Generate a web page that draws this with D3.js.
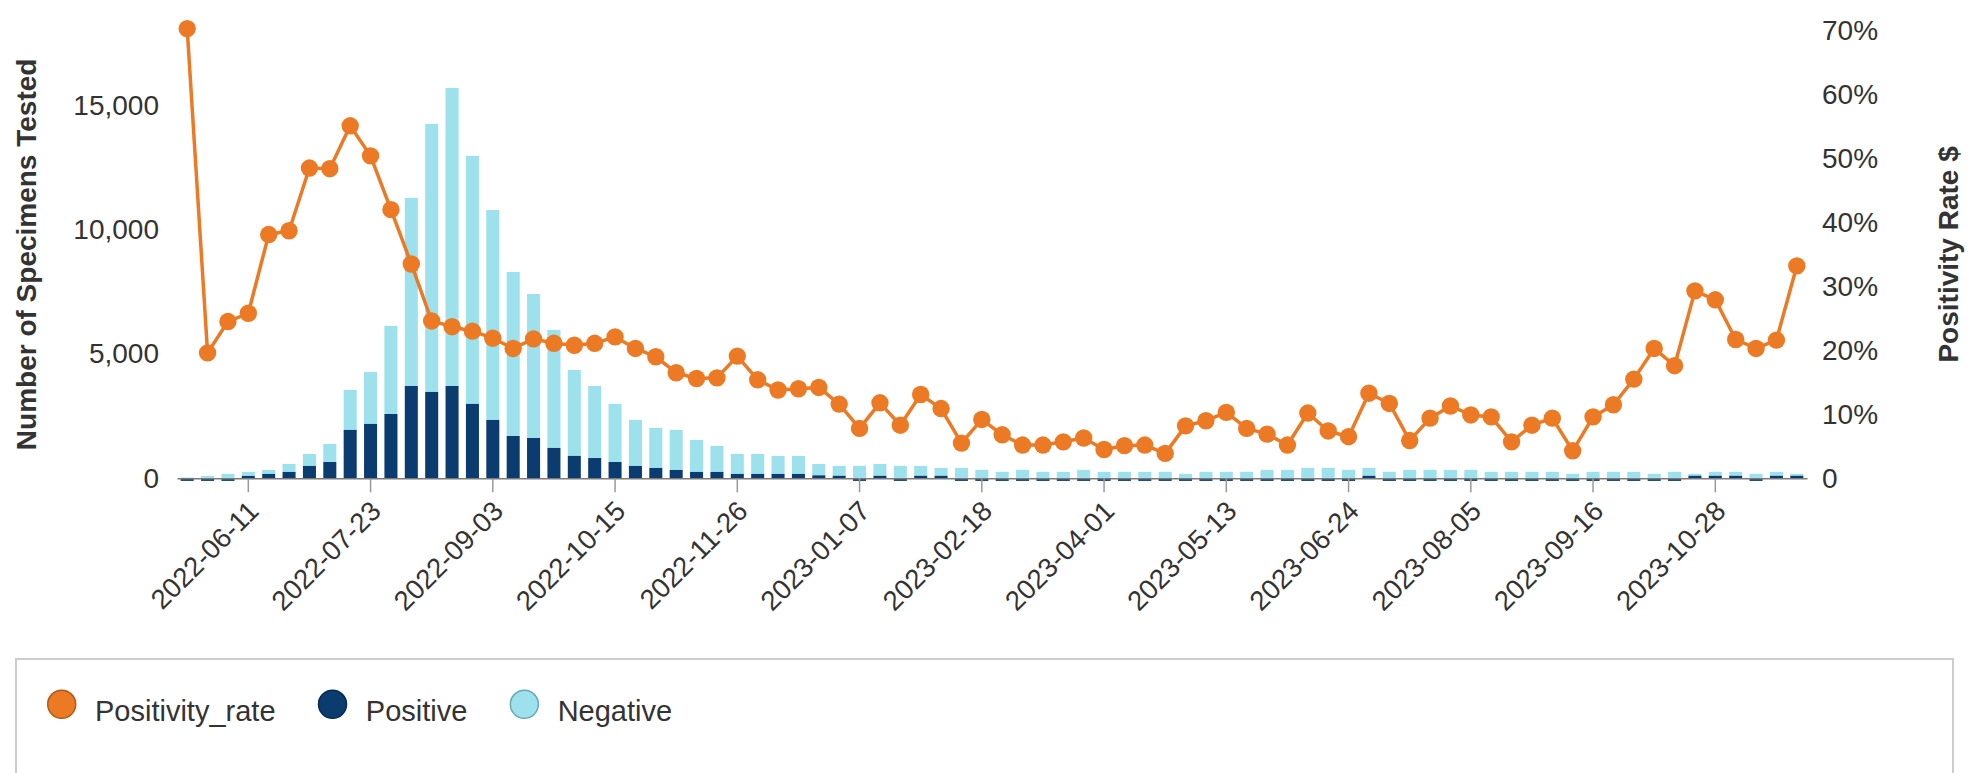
<!DOCTYPE html>
<html><head><meta charset="utf-8">
<script src="https://cdn.jsdelivr.net/npm/d3@7"></script>
<style>
body{margin:0;background:#fff}
svg{display:block}
text{font-family:"Liberation Sans",Arial,Helvetica,sans-serif;fill:#333}
</style>
</head><body>
<svg id="c" width="1988" height="773"></svg>
<script>
const categories = [
"2022-05-21","2022-05-28","2022-06-04","2022-06-11","2022-06-18","2022-06-25","2022-07-02","2022-07-09","2022-07-16","2022-07-23",
"2022-07-30","2022-08-06","2022-08-13","2022-08-20","2022-08-27","2022-09-03","2022-09-10","2022-09-17","2022-09-24","2022-10-01",
"2022-10-08","2022-10-15","2022-10-22","2022-10-29","2022-11-05","2022-11-12","2022-11-19","2022-11-26","2022-12-03","2022-12-10",
"2022-12-17","2022-12-24","2022-12-31","2023-01-07","2023-01-14","2023-01-21","2023-01-28","2023-02-04","2023-02-11","2023-02-18",
"2023-02-25","2023-03-04","2023-03-11","2023-03-18","2023-03-25","2023-04-01","2023-04-08","2023-04-15","2023-04-22","2023-04-29",
"2023-05-06","2023-05-13","2023-05-20","2023-05-27","2023-06-03","2023-06-10","2023-06-17","2023-06-24","2023-07-01","2023-07-08",
"2023-07-15","2023-07-22","2023-07-29","2023-08-05","2023-08-12","2023-08-19","2023-08-26","2023-09-02","2023-09-09","2023-09-16",
"2023-09-23","2023-09-30","2023-10-07","2023-10-14","2023-10-21","2023-10-28","2023-11-04","2023-11-11","2023-11-18","2023-11-25"];

const positive = [
10,15,15,95,175,255,495,655,1945,2185,
2585,3710,3470,3710,2990,2345,1700,1620,1220,900,
815,655,495,415,335,255,255,175,175,175,
175,120,100,15,100,15,100,100,15,12,
14,15,13,15,16,12,14,15,12,10,
13,15,14,16,15,17,15,14,100,12,
11,14,15,13,12,11,13,14,9,12,
13,15,16,14,100,100,100,15,100,100];

const negative = [
20,80,160,160,160,320,485,725,1605,2090,
3540,7560,10775,11980,9970,8440,6595,5790,4745,3455,
2895,2335,1850,1610,1610,1285,1045,805,805,725,
725,455,400,485,475,485,400,320,405,328,
246,325,247,245,324,248,246,245,248,170,
247,245,246,324,325,403,405,326,320,248,
329,326,325,327,248,249,247,246,171,248,
247,245,164,246,80,160,160,165,160,80];

const positivityRate = [
70.3,19.6,24.5,25.8,38.1,38.7,48.5,48.4,55.1,50.4,
42.0,33.5,24.6,23.7,23.0,21.9,20.3,21.8,21.1,20.8,
21.1,22.1,20.3,19.0,16.5,15.6,15.7,19.1,15.4,13.8,
14.0,14.2,11.6,7.8,11.8,8.3,13.1,10.9,5.5,9.2,
6.8,5.2,5.2,5.7,6.3,4.5,5.1,5.2,3.9,8.2,
9.0,10.3,7.8,6.9,5.2,10.2,7.4,6.5,13.3,11.7,
5.9,9.4,11.3,9.9,9.6,5.7,8.3,9.4,4.3,9.6,
11.5,15.5,20.3,17.6,29.3,27.9,21.7,20.3,21.6,33.2];

const tickLabels = ["2022-06-11","2022-07-23","2022-09-03","2022-10-15","2022-11-26","2023-01-07","2023-02-18","2023-04-01","2023-05-13","2023-06-24","2023-08-05","2023-09-16","2023-10-28"];
const leftTicks = [0,5000,10000,15000];
const rightTicks = [0,10,20,30,40,50,60,70];
const seriesNames = ["Positivity_rate","Positive","Negative"];

const C = {rate:"#ec7a24", pos:"#0b3c6f", neg:"#9ce1ec"};
const LEG_STROKE = {rate:"#b05816", pos:"#062a50", neg:"#6aa8b2"};

const svg = d3.select("#c");
const L = 177, R = 1807, T = 30.5, B = 478.3;

const x = d3.scaleBand().domain(categories).range([L, R]).paddingInner(0.36).paddingOuter(0.18);
const yL = d3.scaleLinear().domain([0, 18000]).range([B, T]);
const yR = d3.scaleLinear().domain([0, 70]).range([B, T]);

const data = categories.map((c, i) => ({c, p: positive[i], n: negative[i], r: positivityRate[i]}));

// bars
const gb = svg.append("g");
gb.selectAll("rect.neg").data(data).join("rect")
  .attr("x", d => x(d.c)).attr("width", x.bandwidth())
  .attr("y", d => yL(d.p + d.n)).attr("height", d => yL(d.p) - yL(d.p + d.n))
  .attr("fill", C.neg);
gb.selectAll("rect.pos").data(data).join("rect")
  .attr("x", d => x(d.c)).attr("width", x.bandwidth())
  .attr("y", d => (yL(0) - yL(d.p)) < 1.5 ? yL(0) : yL(d.p))
  .attr("height", d => (yL(0) - yL(d.p)) < 1.5 ? 2.6 : yL(0) - yL(d.p))
  .attr("fill", C.pos);

// x axis
const xa = svg.append("g").attr("transform", `translate(0,${B})`)
  .call(d3.axisBottom(x).tickValues(tickLabels).tickSize(14).tickSizeOuter(0));
xa.select(".domain").attr("stroke", "#7a7a7a").attr("stroke-width", 1.5);
xa.selectAll(".tick line").attr("stroke", "#999").attr("stroke-width", 1.5);
xa.selectAll(".tick text")
  .attr("x", 0).attr("y", 0).attr("dy", 0)
  .attr("transform", "translate(12,34.5) rotate(-45)")
  .attr("text-anchor", "end")
  .attr("font-size", 27.5)
  .attr("font-family", "Liberation Sans, Arial, sans-serif")
  .attr("fill", "#333");

// left axis
const la = svg.append("g").attr("transform", `translate(${L},0)`)
  .call(d3.axisLeft(yL).tickValues(leftTicks).tickSize(0).tickPadding(18).tickFormat(d3.format(",")));
la.select(".domain").remove();
la.selectAll("text").attr("font-size", 28).attr("font-family", "Liberation Sans, Arial, sans-serif").attr("fill", "#333");

// right axis
const ra = svg.append("g").attr("transform", `translate(${R},0)`)
  .call(d3.axisRight(yR).tickValues(rightTicks).tickSize(0).tickPadding(15).tickFormat(d => d === 0 ? "0" : d + "%"));
ra.select(".domain").remove();
ra.selectAll("text").attr("font-size", 28).attr("font-family", "Liberation Sans, Arial, sans-serif").attr("fill", "#333");

// axis titles
svg.append("text").attr("transform", `translate(35.5,${(T + B) / 2}) rotate(-90)`)
  .attr("text-anchor", "middle").attr("font-size", 28).attr("font-weight", "bold")
  .text("Number of Specimens Tested");
svg.append("text").attr("transform", `translate(1957.5,${(T + B) / 2}) rotate(-90)`)
  .attr("text-anchor", "middle").attr("font-size", 28).attr("font-weight", "bold")
  .text("Positivity Rate $");

// line
const cx = d => x(d.c) + x.bandwidth() / 2;
svg.append("path").datum(data)
  .attr("d", d3.line().x(cx).y(d => yR(d.r)))
  .attr("fill", "none").attr("stroke", C.rate).attr("stroke-width", 3.5).attr("stroke-linejoin", "round");
svg.append("g").selectAll("circle").data(data).join("circle")
  .attr("cx", cx).attr("cy", d => yR(d.r)).attr("r", 8.7).attr("fill", C.rate);

// legend
svg.append("rect").attr("x", 16).attr("y", 659).attr("width", 1937).attr("height", 200)
  .attr("fill", "none").attr("stroke", "#cccccc").attr("stroke-width", 2);
const keys = ["rate", "pos", "neg"];
let lx = 61.7;
keys.forEach((k, i) => {
  svg.append("circle").attr("cx", lx).attr("cy", 704.3).attr("r", 14)
    .attr("fill", C[k]).attr("stroke", LEG_STROKE[k]).attr("stroke-width", 1.5);
  const t = svg.append("text").attr("x", lx + 33.3).attr("y", 721).attr("font-size", 29).text(seriesNames[i]);
  lx = lx + 33.3 + t.node().getComputedTextLength() + 57;
});
</script>
</body></html>
